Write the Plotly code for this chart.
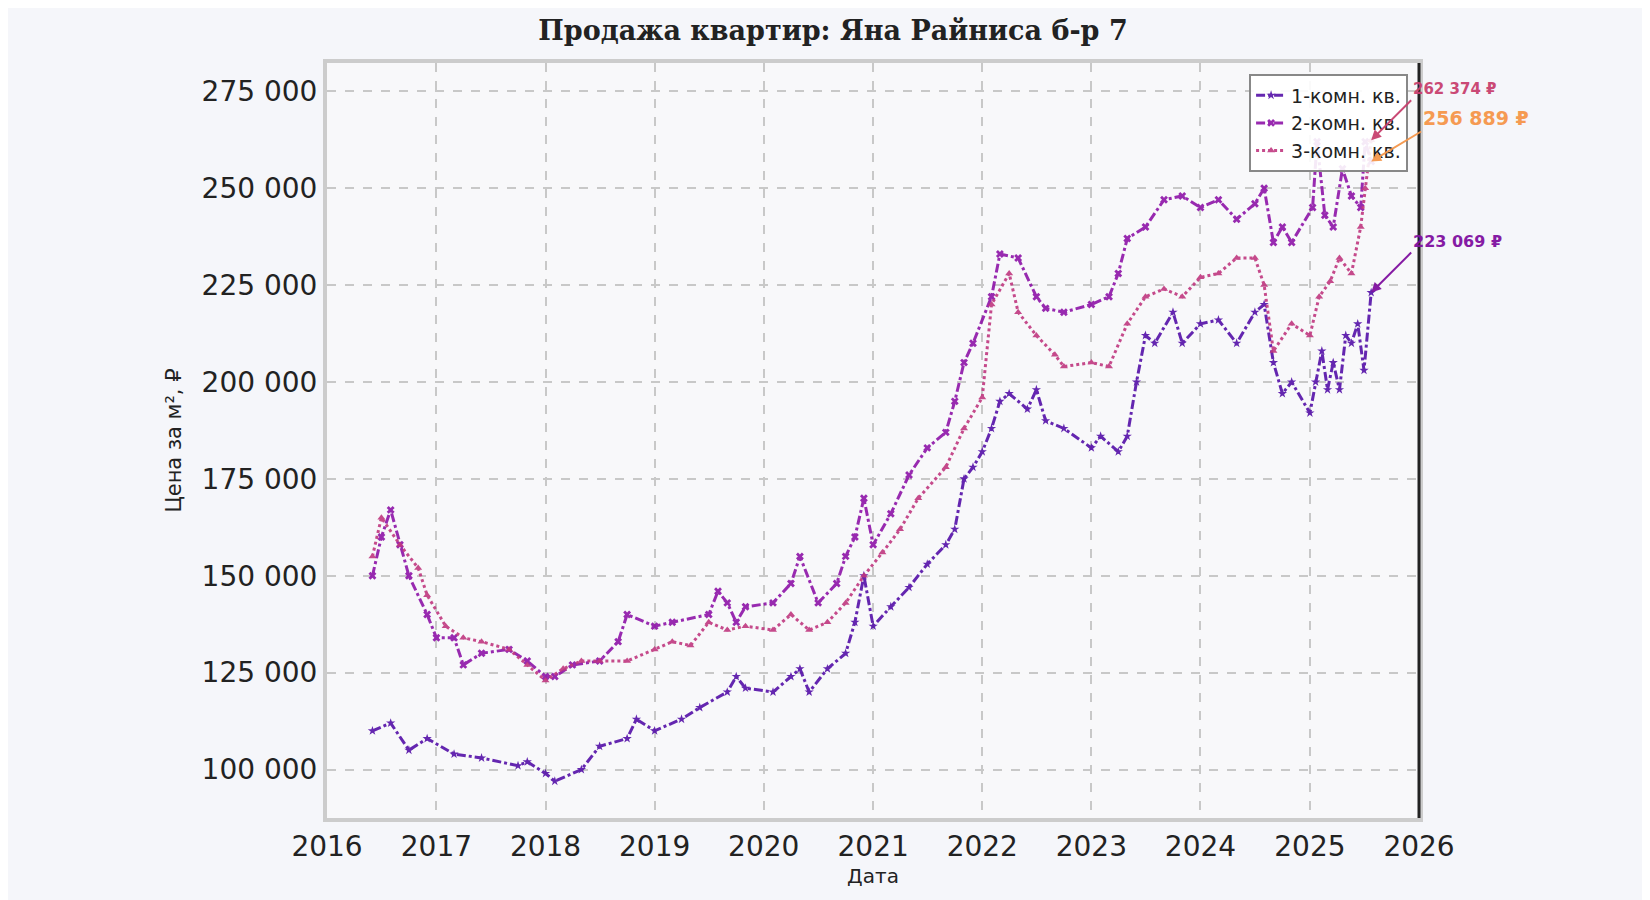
import plotly.graph_objects as go

dates_1 = ["2016-06","2016-08","2016-10","2016-12","2017-03","2017-06","2017-10","2017-11","2018-01","2018-02","2018-05","2018-07","2018-10","2018-11","2019-01","2019-04","2019-06","2019-09","2019-10","2019-11","2020-02","2020-04","2020-05","2020-06","2020-08","2020-10","2020-11","2020-12","2021-01","2021-03","2021-05","2021-07","2021-09","2021-10","2021-11","2021-12","2022-01","2022-02","2022-03","2022-04","2022-06","2022-07","2022-08","2022-10","2023-01","2023-02","2023-04","2023-05","2023-06","2023-07","2023-08","2023-10","2023-11","2024-01","2024-03","2024-05","2024-07","2024-08","2024-09","2024-10","2024-11","2025-01","2025-01-20","2025-02-10","2025-03-01","2025-03-20","2025-04-10","2025-05-01","2025-05-20","2025-06-10","2025-07-01","2025-07-25"]
vals_1 = [110000,112000,105000,108000,104000,103000,101000,102000,99000,97000,100000,106000,108000,113000,110000,113000,116000,120000,124000,121000,120000,124000,126000,120000,126000,130000,138000,150000,137000,142000,147000,153000,158000,162000,175000,178000,182000,188000,195000,197000,193000,198000,190000,188000,183000,186000,182000,186000,200000,212000,210000,218000,210000,215000,216000,210000,218000,220000,205000,197000,200000,192000,200000,208000,198000,205000,198000,212000,210000,215000,203000,223069]

dates_2 = ["2016-06","2016-07","2016-08","2016-09","2016-10","2016-12","2017-01","2017-03","2017-04","2017-06","2017-09","2017-11","2018-01","2018-02","2018-04","2018-07","2018-09","2018-10","2019-01","2019-03","2019-07","2019-08","2019-09","2019-10","2019-11","2020-02","2020-04","2020-05","2020-07","2020-09","2020-10","2020-11","2020-12","2021-01","2021-03","2021-05","2021-07","2021-09","2021-10","2021-11","2021-12","2022-02","2022-03","2022-05","2022-07","2022-08","2022-10","2023-01","2023-03","2023-04","2023-05","2023-07","2023-09","2023-11","2024-01","2024-03","2024-05","2024-07","2024-08","2024-09","2024-10","2024-11","2025-01-10","2025-01-25","2025-02-20","2025-03-20","2025-04-20","2025-05-20","2025-06-20","2025-07-05","2025-07-25"]
vals_2 = [150000,160000,167000,158000,150000,140000,134000,134000,127000,130000,131000,128000,124000,124000,127000,128000,133000,140000,137000,138000,140000,146000,143000,138000,142000,143000,148000,155000,143000,148000,155000,160000,170000,158000,166000,176000,183000,187000,195000,205000,210000,222000,233000,232000,222000,219000,218000,220000,222000,228000,237000,240000,247000,248000,245000,247000,242000,246000,250000,236000,240000,236000,245000,262000,243000,240000,255000,248000,245000,262000,256889]

dates_3 = ["2016-06","2016-07","2016-09","2016-11","2016-12","2017-02","2017-04","2017-06","2017-09","2017-11","2018-01","2018-03","2018-05","2018-07","2018-10","2019-01","2019-03","2019-05","2019-07","2019-09","2019-11","2020-02","2020-04","2020-06","2020-08","2020-10","2020-12","2021-02","2021-04","2021-06","2021-09","2021-11","2022-01","2022-02","2022-04","2022-05","2022-07","2022-09","2022-10","2023-01","2023-03","2023-05","2023-07","2023-09","2023-11","2024-01","2024-03","2024-05","2024-07","2024-08","2024-09","2024-11","2025-01-01","2025-02-01","2025-03-10","2025-04-10","2025-05-20","2025-06-20","2025-07-05","2025-07-25"]
vals_3 = [155000,165000,158000,152000,145000,137000,134000,133000,131000,127000,123000,126000,128000,128000,128000,131000,133000,132000,138000,136000,137000,136000,140000,136000,138000,143000,150000,156000,162000,170000,178000,188000,196000,220000,228000,218000,212000,207000,204000,205000,204000,215000,222000,224000,222000,227000,228000,232000,232000,225000,208000,215000,212000,222000,226000,232000,228000,240000,250000,262374]

names = ["1-комн. кв.", "2-комн. кв.", "3-комн. кв."]
colors = ["#5510a8", "#8e14a8", "#c03880"]
ytick_vals = [100000,125000,150000,175000,200000,225000,250000,275000]
ytick_text = ["100 000","125 000","150 000","175 000","200 000","225 000","250 000","275 000"]
xtick_vals = [f"{y}-01-01" for y in range(2016, 2027)]
xtick_text = [str(y) for y in range(2016, 2027)]

fig = go.Figure()
specs = [(dates_1, vals_1, "dashdot", "star"), (dates_2, vals_2, "dashdot", "x"), (dates_3, vals_3, "dot", "triangle-up")]
for (d, v, dash, sym), n, c in zip(specs, names, colors):
    fig.add_trace(go.Scatter(x=d, y=v, name=n, mode="lines+markers",
                             line=dict(color=c, width=3, dash=dash),
                             marker=dict(symbol=sym, size=7, color=c), opacity=0.9))

anns = [(dates_3[-1], vals_3[-1], "262 374 ₽", "#c8406e", 40, -40, 15),
        (dates_2[-1], vals_2[-1], "256 889 ₽", "#f5964a", 50, -30, 19),
        (dates_1[-1], vals_1[-1], "223 069 ₽", "#8010a0", 40, -40, 16)]
for x, y, t, c, ax, ay, fs in anns:
    fig.add_annotation(x=x, y=y, text=f"<b>{t}</b>", font=dict(color=c, size=fs, family="DejaVu Sans"),
                       showarrow=True, arrowhead=2, arrowcolor=c, arrowwidth=2, ax=ax, ay=ay,
                       xanchor="left", yanchor="bottom", opacity=0.95)

fig.update_layout(
    width=1650, height=900,
    paper_bgcolor="#f5f6fa", plot_bgcolor="#f8f8fa",
    font=dict(family="DejaVu Sans", color="#222"),
    title=dict(text="<b>Продажа квартир: Яна Райниса б-р 7</b>", x=0.5, y=0.985,
               font=dict(family="DejaVu Serif", size=27, color="#222")),
    margin=dict(l=319, r=239, t=55, b=90),
    legend=dict(x=0.99, y=0.985, xanchor="right", yanchor="top", bgcolor="rgba(255,255,255,0.9)",
                bordercolor="#888", borderwidth=2, font=dict(size=19)),
    xaxis=dict(type="date", range=["2016-01-01", "2026-01-01"], tickvals=xtick_vals, ticktext=xtick_text,
               showgrid=True, gridcolor="#c8c8c8", griddash="dash", gridwidth=1.5,
               tickfont=dict(size=28), ticks="", title=dict(text="Дата", font=dict(size=20), standoff=8),
               showline=True, linecolor="#cccccc", linewidth=4, mirror=True, zeroline=False),
    yaxis=dict(range=[87500, 282300], tickvals=ytick_vals, ticktext=ytick_text,
               showgrid=True, gridcolor="#c8c8c8", griddash="dash", gridwidth=1.5,
               tickfont=dict(size=28), title=dict(text="Цена за м², ₽", font=dict(size=21)),
               showline=True, linecolor="#cccccc", linewidth=4, mirror=True, zeroline=False),
)
fig.add_shape(type="line", xref="paper", yref="paper", x0=1, x1=1, y0=0, y1=1,
              line=dict(color="#222", width=3))
fig.write_html("out.html")
